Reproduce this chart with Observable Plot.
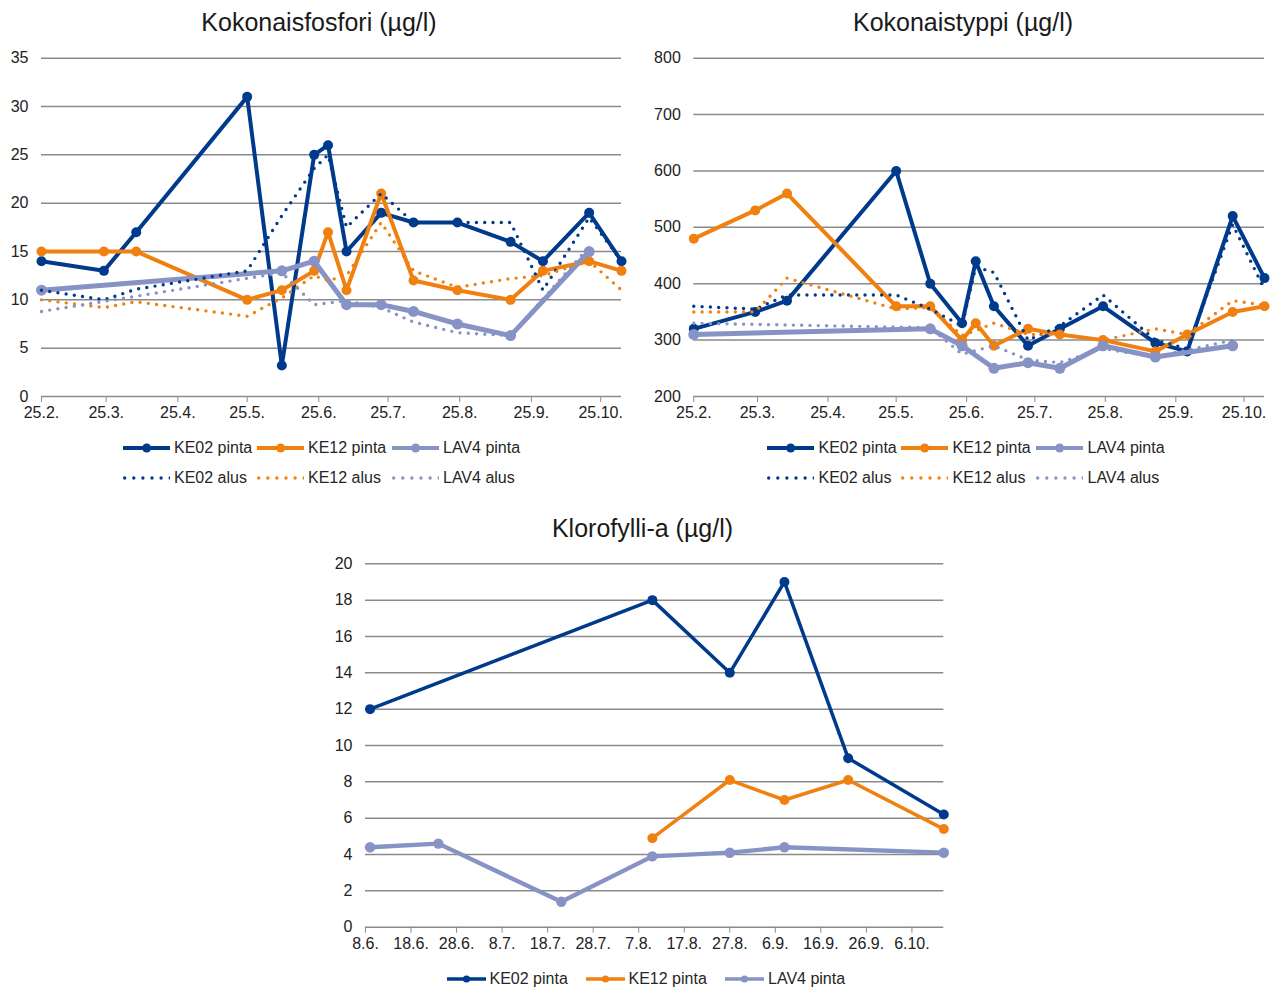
<!DOCTYPE html>
<html>
<head>
<meta charset="utf-8">
<script src="https://cdn.jsdelivr.net/npm/d3@7"></script>
<script src="https://cdn.jsdelivr.net/npm/@observablehq/plot@0.6"></script>
<style>
  body { margin: 0; background: #fff; }
  #page { position: relative; width: 1273px; height: 990px; font-family: "Liberation Sans", Arial, sans-serif; color: #222; overflow: hidden; }
  .title { position: absolute; width: 500px; text-align: center; font-size: 25px; line-height: 30px; white-space: nowrap; color: #1a1a1a; }
  .chart { position: absolute; }
  .leg { position: absolute; display: flex; align-items: center; font-size: 16px; line-height: 20px; white-space: nowrap; color: #262626; }
  .leg svg { display: block; margin-right: 4px; }
</style>
</head>
<body>
<div id="page"></div>
<script>
// Series colours
const colKE02 = "#003a8c";
const colKE12 = "#f0800f";
const colLAV4 = "#8792c5";

// Nutrient sampling dates for KE02 and KE12
const datesKE = ["2019-02-25", "2019-03-24", "2019-04-07", "2019-05-25", "2019-06-09", "2019-06-23", "2019-06-29",
  "2019-07-07", "2019-07-22", "2019-08-05", "2019-08-24", "2019-09-16", "2019-09-30", "2019-10-20", "2019-11-03"];
// Nutrient sampling dates for LAV4
const datesLAV4 = ["2019-02-25", "2019-06-09", "2019-06-23", "2019-07-07", "2019-07-22", "2019-08-05",
  "2019-08-24", "2019-09-16", "2019-10-20"];

// Kokonaisfosfori (µg/l)
const tpKE02pinta = [14, 13, 17, 31, 3.2, 25, 26, 15, 19, 18, 18, 16, 14, 19, 14];
const tpKE12pinta = [15, 15, 15, 10, 11, 13, 17, 11, 21, 12, 11, 10, 13, 14, 13];
const tpLAV4pinta = [11, 13, 14, 9.5, 9.5, 8.8, 7.5, 6.3, 15];
const tpKE02alus = [11, 10, 11.1, 13, 18.7, 23.6, 25, 17.5, 21, 18, 18, 18, 11, 18.5, 14];
const tpKE12alus = [10, 9.2, 9.8, 8.3, 10.2, 12.5, 12, 12.5, 18, 13, 11.3, 12.2, 12.5, 14, 11];
const tpLAV4alus = [8.8, 12.8, 9.5, 9.9, 9.2, 7.7, 6.6, 6.3, 15.5];

// Kokonaistyppi (µg/l)
const tnKE02pinta = [320, 350, 370, 600, 400, 330, 440, 360, 290, 320, 360, 295, 280, 520, 410];
const tnKE12pinta = [480, 530, 560, 360, 360, 300, 330, 290, 320, 310, 300, 280, 310, 350, 360];
const tnLAV4pinta = [310, 320, 290, 250, 260, 250, 290, 270, 290];
const tnKE02alus = [360, 355, 380, 380, 355, 325, 430, 420, 300, 325, 380, 300, 285, 505, 390];
const tnKE12alus = [350, 350, 410, 355, 358, 308, 317, 330, 310, 310, 300, 320, 310, 370, 362];
const tnLAV4alus = [330, 322, 275, 290, 265, 260, 285, 270, 300];

// Klorofylli-a (µg/l)
const chlDatesKE02 = ["2019-06-09", "2019-08-10", "2019-08-27", "2019-09-08", "2019-09-22", "2019-10-13"];
const chlKE02pinta = [12, 18, 14, 19, 9.3, 6.2];
const chlDatesKE12 = ["2019-08-10", "2019-08-27", "2019-09-08", "2019-09-22", "2019-10-13"];
const chlKE12pinta = [4.9, 8.1, 7.0, 8.1, 5.4];
const chlDatesLAV4 = ["2019-06-09", "2019-06-24", "2019-07-21", "2019-08-10", "2019-08-27", "2019-09-08", "2019-10-13"];
const chlLAV4pinta = [4.4, 4.6, 1.4, 3.9, 4.1, 4.4, 4.1];

// Axis ticks
const nutrientXTicks = ["2019-02-25", "2019-03-25", "2019-04-25", "2019-05-25", "2019-06-25", "2019-07-25",
  "2019-08-25", "2019-09-25", "2019-10-25"];
const chlXTicks = ["2019-06-08", "2019-06-18", "2019-06-28", "2019-07-08", "2019-07-18", "2019-07-28",
  "2019-08-07", "2019-08-17", "2019-08-27", "2019-09-06", "2019-09-16", "2019-09-26", "2019-10-06"];
const tpYTicks = [0, 5, 10, 15, 20, 25, 30, 35];
const tnYTicks = [200, 300, 400, 500, 600, 700, 800];
const chlYTicks = [0, 2, 4, 6, 8, 10, 12, 14, 16, 18, 20];

const nutrientDomain = ["2019-02-25", "2019-11-03"];
const chlDomain = ["2019-06-08", "2019-10-13"];

const rows = (dates, values) => dates.map((d, i) => ({date: new Date(d), value: values[i]}));
const dayMonth = d => `${d.getUTCDate()}.${d.getUTCMonth() + 1}.`;
const FONT = '"Liberation Sans", Arial, sans-serif';

function panel(cfg) {
  const marks = [
    Plot.ruleY(cfg.yTicks, {stroke: "#8a8a8a", strokeWidth: 1.5}),
    Plot.axisY(cfg.yTicks, {tickSize: 0, tickPadding: 13, fill: "#222", label: null, tickFormat: d => String(d)}),
    Plot.axisX(cfg.xTicks.map(d => new Date(d)), {tickSize: 6, tickPadding: 4, stroke: "#8a8a8a", fill: "#222",
      label: null, tickFormat: dayMonth})
  ];
  for (const s of cfg.solid) {
    marks.push(Plot.line(s.data, {x: "date", y: "value", stroke: s.color, strokeWidth: s.w,
      strokeLinejoin: "round", strokeLinecap: "round"}));
    marks.push(Plot.dot(s.data, {x: "date", y: "value", fill: s.color, r: s.r}));
  }
  for (const s of cfg.dotted || []) {
    marks.push(Plot.line(s.data, {x: "date", y: "value", stroke: s.color, strokeWidth: 3.4,
      strokeDasharray: "0 8.3", strokeLinecap: "round"}));
  }
  const svg = Plot.plot({
    width: cfg.width, height: cfg.height,
    marginLeft: cfg.ml, marginRight: cfg.mr, marginTop: cfg.mt, marginBottom: cfg.mb,
    style: {fontFamily: FONT, fontSize: "16px", background: "transparent", overflow: "visible"},
    x: {type: "utc", domain: cfg.xDomain.map(d => new Date(d)), label: null},
    y: {domain: cfg.yDomain, label: null},
    marks
  });
  svg.classList.add("chart");
  svg.style.left = cfg.left + "px";
  svg.style.top = cfg.top + "px";
  return svg;
}

const page = document.getElementById("page");

// Fosfori
page.appendChild(panel({
  left: 0, top: 40, width: 640, height: 390, ml: 41, mr: 19, mt: 17.7, mb: 34,
  xDomain: nutrientDomain, xTicks: nutrientXTicks, yDomain: [0, 35], yTicks: tpYTicks,
  solid: [
    {data: rows(datesKE, tpKE02pinta), color: colKE02, w: 4, r: 5},
    {data: rows(datesKE, tpKE12pinta), color: colKE12, w: 4, r: 5},
    {data: rows(datesLAV4, tpLAV4pinta), color: colLAV4, w: 5, r: 5.5}
  ],
  dotted: [
    {data: rows(datesKE, tpKE02alus), color: colKE02},
    {data: rows(datesKE, tpKE12alus), color: colKE12},
    {data: rows(datesLAV4, tpLAV4alus), color: colLAV4}
  ]
}));

// Typpi
page.appendChild(panel({
  left: 640, top: 40, width: 633, height: 390, ml: 53.3, mr: 9, mt: 17.7, mb: 34,
  xDomain: nutrientDomain, xTicks: nutrientXTicks, yDomain: [200, 800], yTicks: tnYTicks,
  solid: [
    {data: rows(datesKE, tnKE02pinta), color: colKE02, w: 4, r: 5},
    {data: rows(datesKE, tnKE12pinta), color: colKE12, w: 4, r: 5},
    {data: rows(datesLAV4, tnLAV4pinta), color: colLAV4, w: 5, r: 5.5}
  ],
  dotted: [
    {data: rows(datesKE, tnKE02alus), color: colKE02},
    {data: rows(datesKE, tnKE12alus), color: colKE12},
    {data: rows(datesLAV4, tnLAV4alus), color: colLAV4}
  ]
}));

// Klorofylli-a
page.appendChild(panel({
  left: 300, top: 545, width: 660, height: 420, ml: 65, mr: 16.7, mt: 18.3, mb: 38.3,
  xDomain: chlDomain, xTicks: chlXTicks, yDomain: [0, 20], yTicks: chlYTicks,
  solid: [
    {data: rows(chlDatesKE02, chlKE02pinta), color: colKE02, w: 3.5, r: 5},
    {data: rows(chlDatesKE12, chlKE12pinta), color: colKE12, w: 3.5, r: 5},
    {data: rows(chlDatesLAV4, chlLAV4pinta), color: colLAV4, w: 4.3, r: 5.2}
  ]
}));

// Titles
function title(text, cx, top) {
  const div = document.createElement("div");
  div.className = "title";
  div.textContent = text;
  div.style.left = (cx - 250) + "px";
  div.style.top = top + "px";
  page.appendChild(div);
}
title("Kokonaisfosfori (µg/l)", 319, 7);
title("Kokonaistyppi (µg/l)", 963, 7);
title("Klorofylli-a (µg/l)", 642.5, 513);

// Legends
function legendItem(label, color, kind, left, cy, len, lw, r) {
  const div = document.createElement("div");
  div.className = "leg";
  div.style.left = left + "px";
  div.style.top = (cy - 10) + "px";
  const ns = "http://www.w3.org/2000/svg";
  const svg = document.createElementNS(ns, "svg");
  svg.setAttribute("width", len);
  svg.setAttribute("height", 14);
  const line = document.createElementNS(ns, "line");
  line.setAttribute("y1", 7);
  line.setAttribute("y2", 7);
  line.setAttribute("stroke", color);
  if (kind === "solid") {
    line.setAttribute("x1", 0);
    line.setAttribute("x2", len);
    line.setAttribute("stroke-width", lw);
    svg.appendChild(line);
    const c = document.createElementNS(ns, "circle");
    c.setAttribute("cx", len / 2);
    c.setAttribute("cy", 7);
    c.setAttribute("r", r);
    c.setAttribute("fill", color);
    svg.appendChild(c);
  } else {
    line.setAttribute("x1", 1.7);
    line.setAttribute("x2", len);
    line.setAttribute("stroke-width", 3.4);
    line.setAttribute("stroke-dasharray", "0 9.1");
    line.setAttribute("stroke-linecap", "round");
    svg.appendChild(line);
  }
  div.appendChild(svg);
  const span = document.createElement("span");
  span.textContent = label;
  div.appendChild(span);
  page.appendChild(div);
}

const legendSeries = [
  {name: "KE02", color: colKE02},
  {name: "KE12", color: colKE12},
  {name: "LAV4", color: colLAV4}
];
const topLegendLefts = [122.7, 256.7, 391.7];
for (const offset of [0, 644.5]) {
  legendSeries.forEach((s, i) => {
    legendItem(`${s.name} pinta`, s.color, "solid", topLegendLefts[i] + offset, 447.5, 47.3, 4, 4.5);
    legendItem(`${s.name} alus`, s.color, "dotted", topLegendLefts[i] + offset, 477.5, 47.3);
  });
}
const bottomLegendLefts = [446.5, 585.5, 725];
legendSeries.forEach((s, i) => {
  legendItem(`${s.name} pinta`, s.color, "solid", bottomLegendLefts[i], 979, 39, 3.4, 3.6);
});
</script>
</body>
</html>
